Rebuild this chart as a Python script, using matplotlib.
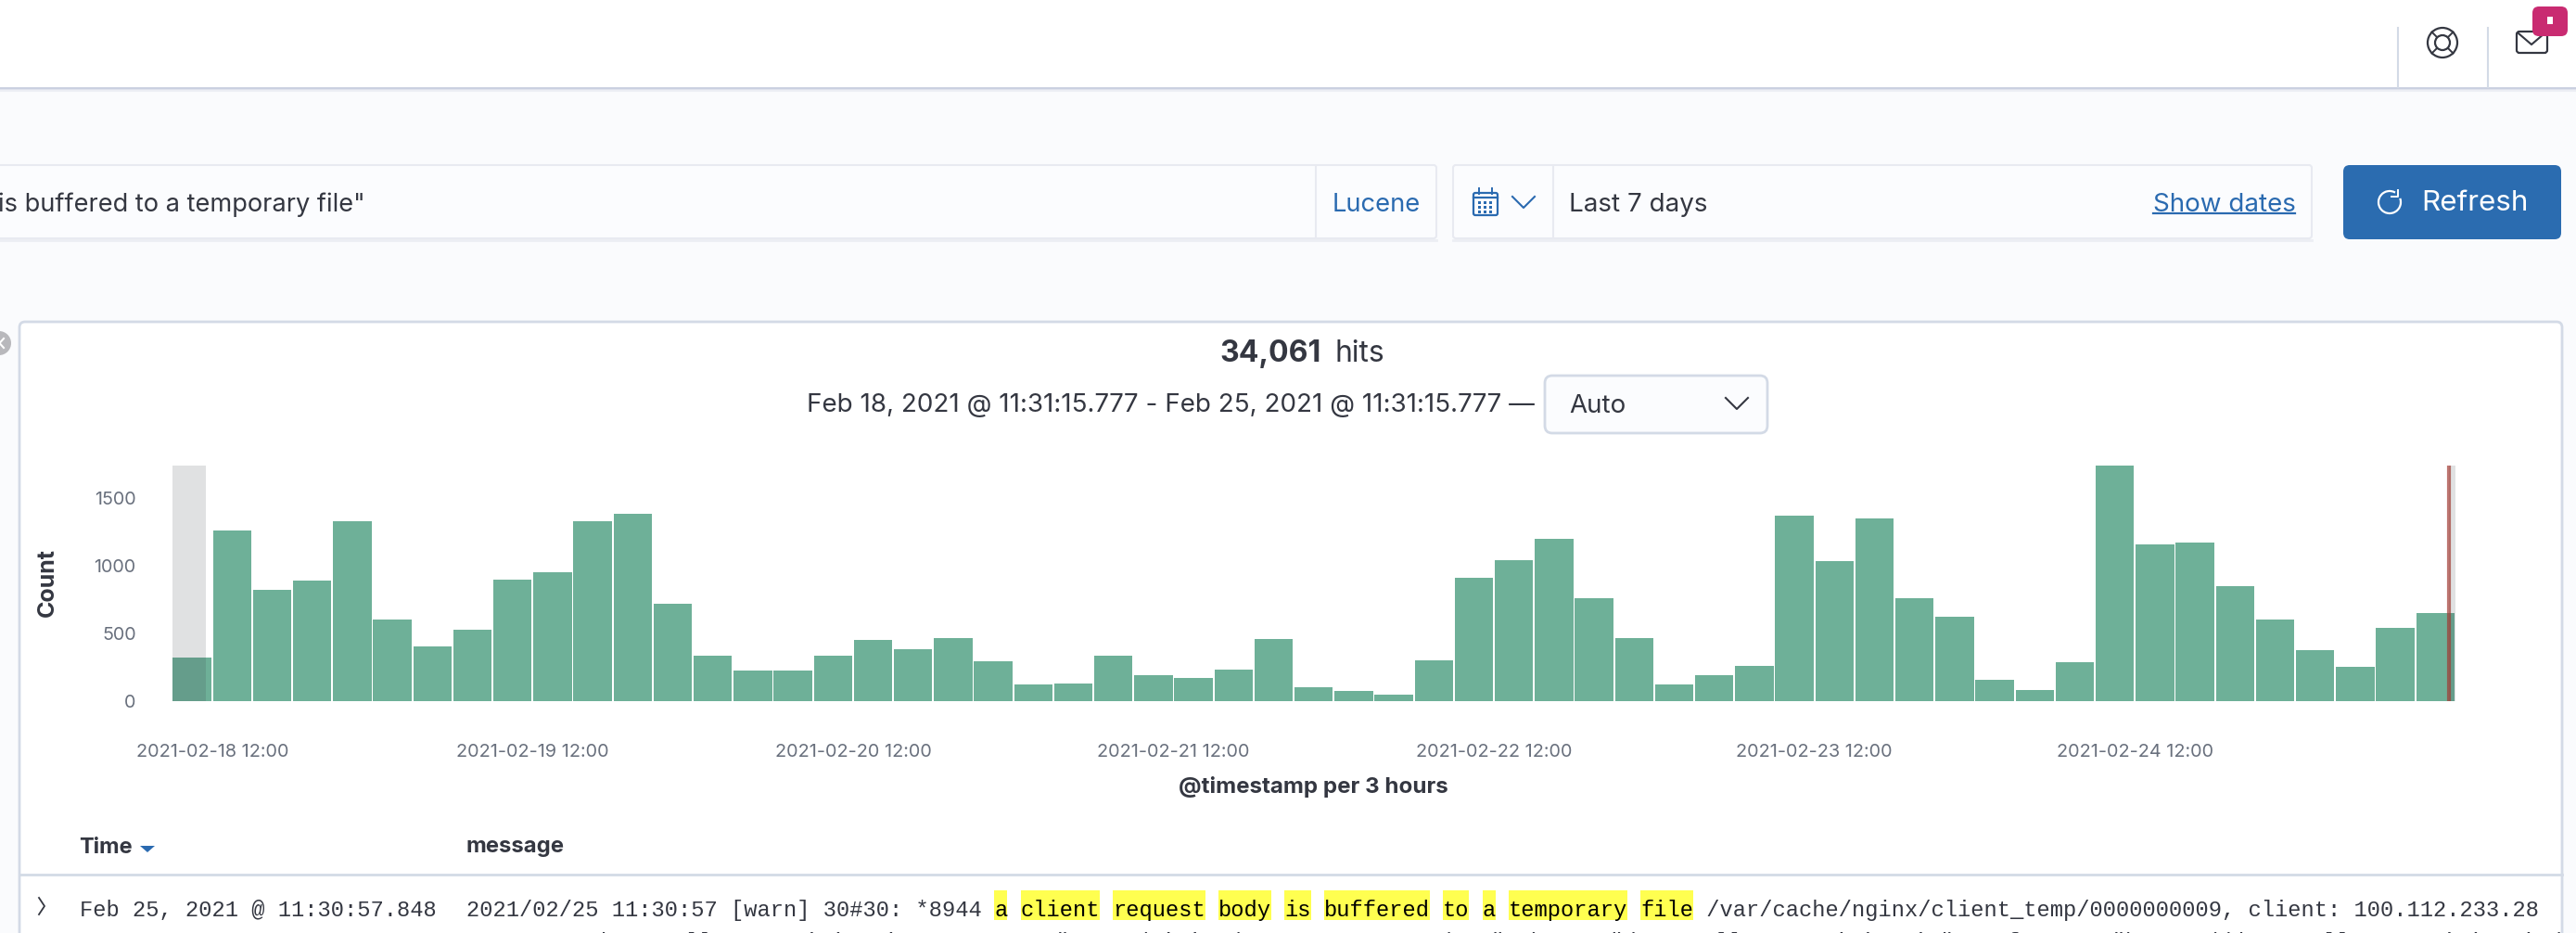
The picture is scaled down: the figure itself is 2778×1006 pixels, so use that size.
"""
Kibana Discover screenshot: nginx "buffered to a temporary file" hits per 3 hours.
The bars are a real date axis, the page around them is drawn in pixel coordinates.
"""
import matplotlib
matplotlib.use("Agg")
import matplotlib.pyplot as plt
import matplotlib.dates as mdates
import pandas as pd
from matplotlib.patches import Arc, Circle, FancyBboxPatch, Polygon, Rectangle

W, H = 2778, 1006

# hits per 3 hour bucket
counts = [320, 1258, 824, 893, 1329, 600, 402, 530, 895, 954, 1326, 1386, 717,
          333, 226, 224, 336, 454, 381, 466, 292, 123, 130, 333, 190, 169, 231,
          461, 103, 75, 50, 301, 909, 1043, 1201, 758, 464, 121, 190, 258, 1370,
          1032, 1349, 758, 621, 155, 84, 288, 1740, 1155, 1174, 852, 600, 377,
          251, 539, 651]
first_bucket = "2021-02-18 09:00"
range_start = "2021-02-18 11:31:15.777"
range_end = "2021-02-25 11:31:15.777"
x_tick_days = ["2021-02-18", "2021-02-19", "2021-02-20", "2021-02-21",
               "2021-02-22", "2021-02-23", "2021-02-24"]
y_ticks = [0, 500, 1000, 1500]
y_max = 1740

hits_total = "34,061"
range_label = "Feb 18, 2021 @ 11:31:15.777 - Feb 25, 2021 @ 11:31:15.777 —"
row_time = "Feb 25, 2021 @ 11:30:57.848"
row_prefix = "2021/02/25 11:30:57 [warn] 30#30: *8944 "
row_match = "a client request body is buffered to a temporary file"
row_suffix = " /var/cache/nginx/client_temp/0000000009, client: 100.112.233.28"
row_wrap_a = 'data.collector.mining.io, request: "POST /mining/process'
row_wrap_b = 'HTTP/1.1", host: "data.collector.mining.io", referrer: "https://data.collector.mining.io/'

INK = "#343741"
GREY = "#69707d"
BLUE = "#2a6ab0"
BORDER = "#d3dae6"
PAGE = "#fafbfd"
BAR = "#6eb098"
UI = "Inter"
MONO = "Liberation Mono"
MONO_SIZE = 17.08
CHAR_W = 14.23


def box(ax, x0, y0, x1, y1, face, edge="none", lw=1.0, r=0, z=1):
    if r:
        patch = FancyBboxPatch((x0, y0), x1 - x0, y1 - y0, facecolor=face, edgecolor=edge, lw=lw,
                               boxstyle=f"round,pad=0,rounding_size={r}", zorder=z)
    else:
        patch = Rectangle((x0, y0), x1 - x0, y1 - y0, facecolor=face, edgecolor=edge, lw=lw, zorder=z)
    ax.add_patch(patch)


def label(ax, x, y, s, size, color=INK, ha="left", weight="normal", family=UI, z=5):
    return ax.text(x, y, s, fontsize=size, color=color, ha=ha, va="center_baseline",
                   fontweight=weight, family=family, zorder=z)


def chevron(ax, cx, cy, w, h, color, lw=1.5):
    ax.plot([cx - w, cx, cx + w], [cy - h, cy + h, cy - h], color=color, lw=lw, zorder=5)


def draw_header(ax):
    box(ax, 0, 0, W, 94, "white")
    for i, alpha in enumerate([0.9, 0.5, 0.25]):
        ax.plot([0, W], [94.5 + i * 1.5] * 2, color="#c9cfe0", lw=1.5, alpha=alpha, zorder=2)
    for x in (2586, 2683):
        ax.plot([x, x], [30, 94], color=BORDER, lw=1.5, zorder=3)

    # help icon
    ax.add_patch(Circle((2634, 46), 16, fill=False, ec=INK, lw=1.6, zorder=5))
    ax.add_patch(Circle((2634, 46), 8, fill=False, ec=INK, lw=1.6, zorder=5))
    for dx, dy in ((-1, -1), (1, -1), (-1, 1), (1, 1)):
        ax.plot([2634 + 6 * dx, 2634 + 11.5 * dx], [46 + 6 * dy, 46 + 11.5 * dy], color=INK, lw=1.4, zorder=5)

    # mail icon with badge
    box(ax, 2714, 34, 2747, 57, "white", edge=INK, lw=1.6, r=3, z=4)
    chevron(ax, 2730, 42, 14, 6, INK)
    box(ax, 2731, 7, 2769, 39, "#c92b71", r=7, z=6)
    box(ax, 2747, 18, 2753, 26, "white", z=7)


def draw_search_row(ax):
    box(ax, -10, 178, 1549, 257, "#fbfcfe", edge="#e8eaf1", lw=1.5, r=3)
    ax.plot([-10, 1549], [259, 259], color="#eceef4", lw=2, zorder=0.5)
    ax.plot([1419, 1419], [180, 255], color="#e8eaf1", lw=1.5, zorder=2)
    label(ax, -2, 218, 'is buffered to a temporary file"', 19.6)
    label(ax, 1437, 218, "Lucene", 19.7, color=BLUE)

    box(ax, 1567, 178, 2493, 257, "#fbfcfe", edge="#e8eaf1", lw=1.5, r=3)
    ax.plot([1567, 2493], [259, 259], color="#eceef4", lw=2, zorder=0.5)
    ax.plot([1675, 1675], [180, 255], color="#e8eaf1", lw=1.5, zorder=2)

    # calendar icon
    box(ax, 1589, 208, 1615, 232, "none", edge=BLUE, lw=1.6, r=2, z=4)
    ax.plot([1589, 1615], [213, 213], color=BLUE, lw=1.6, zorder=4)
    for x in (1595, 1609):
        ax.plot([x, x], [203, 209], color=BLUE, lw=1.4, zorder=4)
    for row in range(3):
        for col in range(3):
            box(ax, 1594 + col * 6, 217 + row * 5, 1597 + col * 6, 220 + row * 5, BLUE, z=4)
    chevron(ax, 1643, 218, 12, 6, BLUE)

    label(ax, 1692, 218, "Last 7 days", 20)
    label(ax, 2322, 218, "Show dates", 20, color=BLUE)
    ax.plot([2322, 2475], [230, 230], color=BLUE, lw=1.6, zorder=5)

    box(ax, 2527, 178, 2762, 258, "#2b6cb0", r=7, z=3)
    ax.add_patch(Arc((2577, 218), 24, 24, theta1=-20, theta2=300, color="white", lw=1.6, zorder=5))
    ax.plot([2579, 2586, 2586], [212, 212, 205], color="white", lw=1.4, zorder=5)
    label(ax, 2611, 216, "Refresh", 22.6, color="white")


def draw_panel(ax):
    box(ax, 21, 347, 2763, H + 30, "white", edge=BORDER, lw=2, r=6)
    ax.add_patch(Circle((-1, 370), 13, fc="#b8b8bc", ec="none", zorder=2))
    ax.plot([-5, 4], [365, 375], color="white", lw=1.5, zorder=3)
    ax.plot([-5, 4], [375, 365], color="white", lw=1.5, zorder=3)

    label(ax, 1315, 378, hits_total, 23, weight="bold")
    label(ax, 1439, 378, "hits", 23)
    label(ax, 870, 434, range_label, 20)

    box(ax, 1666, 405, 1906, 467, "#fbfcfe", edge=BORDER, lw=2, r=8, z=3)
    label(ax, 1692, 435, "Auto", 20)
    chevron(ax, 1873, 435, 12, 6, INK)


def draw_table(ax):
    label(ax, 85, 911, "Time", 17, weight="bold")
    ax.add_patch(Polygon([[151, 912], [167, 912], [159, 919]], closed=True, fc=BLUE, ec="none", zorder=5))
    label(ax, 502, 911, "message", 17.2, weight="bold")
    ax.plot([21, 2763], [943, 943], color=BORDER, lw=2, zorder=3)

    ax.plot([42, 48, 42], [968, 977, 986], color=INK, lw=1.3, zorder=5)

    label(ax, 86, 979, row_time, MONO_SIZE, family=MONO)
    msg_x = 503
    label(ax, msg_x, 979, row_prefix, MONO_SIZE, family=MONO)

    # every matched word gets its own yellow mark
    x = msg_x + len(row_prefix) * CHAR_W
    for word in row_match.split(" "):
        x1 = x + len(word) * CHAR_W
        box(ax, x, 960, x1, 992, "#ffff50", z=2)
        label(ax, x, 979, word, MONO_SIZE, color="black", family=MONO)
        x = x1 + CHAR_W
    label(ax, x - CHAR_W, 979, row_suffix, MONO_SIZE, family=MONO)

    # second line of the message is cut by the bottom of the screenshot
    label(ax, 640, 1014, row_wrap_a, MONO_SIZE, family=MONO)
    label(ax, 1494, 1014, row_wrap_b, MONO_SIZE, family=MONO)


def draw_chart(fig):
    left, right, top, bottom = 185.6, 2648.0, 502.0, 756.0
    ax = fig.add_axes([left / W, 1 - bottom / H, (right - left) / W, (bottom - top) / H])
    ax.patch.set_alpha(0)

    starts = pd.date_range(first_bucket, periods=len(counts), freq="3h")
    step = pd.Timedelta(hours=3)
    bar_width = 3 / 24 * 0.955
    ax.bar(starts + step * 0.02, counts, width=bar_width, align="edge", color=BAR, edgecolor="none", zorder=2)

    ax.set_xlim(starts[0], starts[-1] + step)
    ax.set_ylim(0, y_max)

    # parts of the chart outside the selected time range
    ax.axvspan(starts[0], pd.Timestamp(range_start), color=INK, alpha=0.15, lw=0, zorder=3)
    ax.axvspan(pd.Timestamp(range_end), starts[-1] + step, color=INK, alpha=0.15, lw=0, zorder=3)
    ax.axvline(pd.Timestamp(range_end), color="#a13a33", alpha=0.7, lw=3, zorder=4)

    ax.set_yticks(y_ticks)
    ax.set_xticks(pd.to_datetime(x_tick_days) + pd.Timedelta(hours=12))
    ax.xaxis.set_major_formatter(mdates.DateFormatter("%Y-%m-%d %H:%M"))
    ax.tick_params(axis="x", length=0, pad=33, labelsize=14.3, labelcolor=GREY)
    ax.tick_params(axis="y", length=0, pad=28, labelsize=14.2, labelcolor=GREY)
    for tick in ax.get_xticklabels() + ax.get_yticklabels():
        tick.set_family(UI)
    for tick in ax.get_yticklabels():
        tick.set_verticalalignment("center_baseline")
    for side in ax.spines.values():
        side.set_visible(False)

    ax.set_ylabel("Count", fontsize=18, fontweight="bold", color=INK, family=UI)
    ax.yaxis.set_label_coords((51 - left) / (right - left), (bottom - 628) / (bottom - top))
    ax.set_xlabel("@timestamp per 3 hours", fontsize=17.4, fontweight="bold", color=INK, family=UI)
    ax.xaxis.set_label_coords((1416 - left) / (right - left), (bottom - 848) / (bottom - top))
    ax.xaxis.label.set_va("center")
    ax.yaxis.label.set_va("center")


def main():
    fig = plt.figure(figsize=(W / 100, H / 100), dpi=100, facecolor=PAGE)
    page = fig.add_axes([0, 0, 1, 1])
    page.set_xlim(0, W)
    page.set_ylim(H, 0)
    page.axis("off")

    draw_header(page)
    draw_search_row(page)
    draw_panel(page)
    draw_table(page)
    draw_chart(fig)

    fig.savefig("out.png", dpi=100, facecolor=PAGE)
    plt.close(fig)


if __name__ == "__main__":
    main()
